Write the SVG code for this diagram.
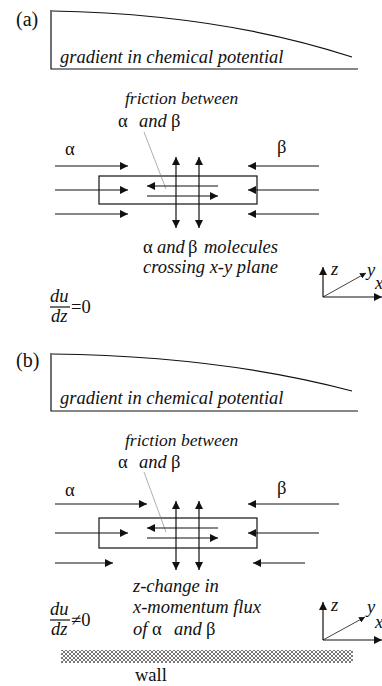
<svg xmlns="http://www.w3.org/2000/svg" width="382" height="686" viewBox="0 0 382 686">
<style>
text{font-family:"Liberation Serif","DejaVu Serif",serif;fill:#111;font-size:18.5px}
.it{font-style:italic}
.sm{font-size:17.5px}
.lb{font-size:20px}
.ln{stroke:#111;stroke-width:1.2;fill:none}
.ar{stroke:#111;stroke-width:1.2;fill:none;marker-end:url(#ah)}
.dar{stroke:#111;stroke-width:1.2;fill:none;marker-end:url(#ah);marker-start:url(#ah)}
.lead{stroke:#777;stroke-width:0.6;fill:none}
.thin{stroke:#111;stroke-width:0.8;fill:none;marker-end:url(#ahs)}
</style>
<defs>
<marker id="ah" markerUnits="userSpaceOnUse" markerWidth="10" markerHeight="8" refX="8" refY="4" orient="auto-start-reverse"><path d="M0,0 L8,4 L0,8 Z" fill="#111"/></marker>
<marker id="ahs" markerUnits="userSpaceOnUse" markerWidth="8" markerHeight="6" refX="6" refY="3" orient="auto"><path d="M0,0 L6,3 L0,6 Z" fill="#111"/></marker>
<pattern id="hatch" patternUnits="userSpaceOnUse" width="4" height="4">
<path d="M0,0 L4,4 M4,0 L0,4" stroke="#555" stroke-width="0.8"/>
</pattern>
</defs>

<g id="panel-a-label"><text class="lb" x="16" y="26">(a)</text></g>
<g id="gradient-a">
<path class="ln" d="M51,10 L51,69 L358,69"/>
<path class="ln" d="M52,11 Q220,14 352,57"/>
<text class="it" x="60" y="63">gradient in chemical potential</text>
</g>
<g id="friction-a">
<text class="it sm" x="125" y="104">friction between</text>
<text x="118" y="127">α<tspan class="it" x="139">and</tspan><tspan x="171">β</tspan></text>
</g>
<g id="alpha-a"><text x="65" y="155">α</text></g>
<g id="beta-a"><text x="277" y="153">β</text></g>
<g id="box-a"><rect class="ln" x="99" y="176" width="158" height="28"/></g>
<g id="molecules-a">
<text x="143" y="253">α<tspan class="it" x="157">and</tspan><tspan x="188">β</tspan><tspan class="it" x="204">molecules</tspan></text>
<text class="it" x="143" y="273">crossing x-y plane</text>
</g>
<g id="dudz-a">
<text class="it" x="50" y="302">du</text>
<line class="ln" x1="50" y1="307" x2="70" y2="307" stroke-width="1"/>
<text class="it" x="51" y="322">dz</text>
<text x="71" y="313">=0</text>
</g>
<g id="axes-a">
<text class="it" x="331" y="275">z</text>
<text class="it" x="367" y="276">y</text>
<text class="it" x="375" y="289">x</text>
</g>

<g id="panel-b-label"><text class="lb" x="16" y="367">(b)</text></g>
<g id="gradient-b">
<path class="ln" d="M51,353 L51,411 L358,411"/>
<path class="ln" d="M52,354 Q220,356 352,391"/>
<text class="it" x="60" y="404">gradient in chemical potential</text>
</g>
<g id="friction-b">
<text class="it sm" x="125" y="446">friction between</text>
<text x="118" y="468">α<tspan class="it" x="139">and</tspan><tspan x="171">β</tspan></text>
</g>
<g id="alpha-b"><text x="65" y="496">α</text></g>
<g id="beta-b"><text x="277" y="494">β</text></g>
<g id="box-b"><rect class="ln" x="99" y="518" width="158" height="30"/></g>
<g id="flux-b">
<text class="it" x="133" y="592">z-change in</text>
<text class="it" x="133" y="613">x-momentum flux</text>
<text x="133" y="635"><tspan class="it">of</tspan><tspan x="152">α</tspan><tspan class="it" x="174">and</tspan><tspan x="206">β</tspan></text>
</g>
<g id="dudz-b">
<text class="it" x="50" y="615">du</text>
<line class="ln" x1="50" y1="620" x2="70" y2="620" stroke-width="1"/>
<text class="it" x="51" y="635">dz</text>
<text x="71" y="626">≠0</text>
</g>
<g id="axes-b">
<text class="it" x="331" y="611">z</text>
<text class="it" x="367" y="613">y</text>
<text class="it" x="375" y="628">x</text>
</g>
<g id="wall">
<rect x="61" y="650" width="292" height="13" fill="url(#hatch)"/>
<text x="135" y="681">wall</text>
</g>

<g id="connectors">
<line class="lead" x1="144" y1="132" x2="166" y2="189"/>
<line class="ar" x1="55" y1="166" x2="128" y2="166"/>
<line class="ar" x1="55" y1="190" x2="128" y2="190"/>
<line class="ar" x1="55" y1="214" x2="128" y2="214"/>
<line class="ar" x1="319" y1="166" x2="248" y2="166"/>
<line class="ar" x1="319" y1="190" x2="248" y2="190"/>
<line class="ar" x1="319" y1="214" x2="248" y2="214"/>
<line class="ar" x1="218" y1="186" x2="147" y2="186"/>
<line class="ar" x1="147" y1="196" x2="218" y2="196"/>
<line class="dar" x1="176" y1="157" x2="176" y2="228"/>
<line class="dar" x1="199" y1="157" x2="199" y2="228"/>
<line class="ar" x1="323" y1="297" x2="323" y2="267"/>
<line class="ar" x1="323" y1="297" x2="382" y2="297"/>
<line class="thin" x1="323" y1="297" x2="366" y2="273"/>
<line class="lead" x1="144" y1="472" x2="166" y2="532"/>
<line class="ar" x1="55" y1="504" x2="147" y2="504"/>
<line class="ar" x1="55" y1="533" x2="128" y2="533"/>
<line class="ar" x1="55" y1="563" x2="113" y2="563"/>
<line class="ar" x1="339" y1="504" x2="248" y2="504"/>
<line class="ar" x1="319" y1="533" x2="248" y2="533"/>
<line class="ar" x1="305" y1="563" x2="253" y2="563"/>
<line class="ar" x1="218" y1="528" x2="147" y2="528"/>
<line class="ar" x1="147" y1="538" x2="218" y2="538"/>
<line class="dar" x1="176" y1="501" x2="176" y2="570"/>
<line class="dar" x1="199" y1="501" x2="199" y2="570"/>
<line class="ar" x1="323" y1="640" x2="323" y2="602"/>
<line class="ar" x1="323" y1="640" x2="382" y2="640"/>
<line class="thin" x1="323" y1="640" x2="365" y2="617"/>
</g>
</svg>
